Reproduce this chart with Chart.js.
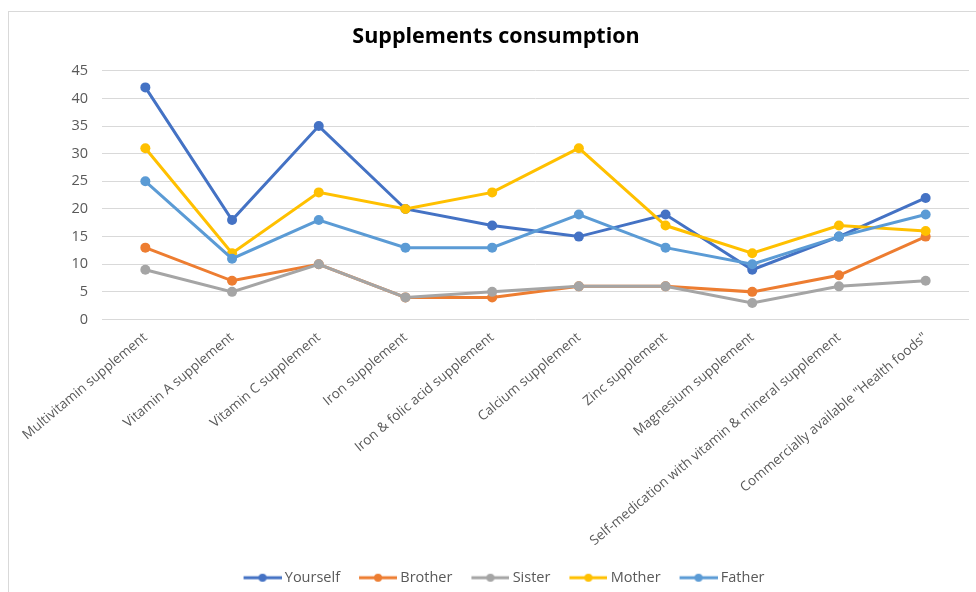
<!DOCTYPE html>
<html>
<head>
<meta charset="utf-8">
<title>Supplements consumption</title>
<script src="https://cdn.jsdelivr.net/npm/chart.js@4/dist/chart.umd.min.js"></script>
<style>
  html, body { margin: 0; padding: 0; background: #fff; overflow: hidden; }
  #wrap { position: relative; width: 976px; height: 592px; }
  #frame {
    position: absolute; left: 8px; top: 11px; width: 1200px; height: 800px;
    border: 1px solid #d9d9d9; box-sizing: border-box; pointer-events: none;
  }
  #chart { position: absolute; left: 0; top: 0; }
</style>
</head>
<body>
<div id="wrap">
  <div id="frame"></div>
  <canvas id="chart" width="976" height="592"></canvas>
</div>
<script>
// Categories on the horizontal axis
const categories = [
  'Multivitamin supplement',
  'Vitamin A supplement',
  'Vitamin C supplement',
  'Iron supplement',
  'Iron & folic acid supplement',
  'Calcium supplement',
  'Zinc supplement',
  'Magnesium supplement',
  'Self-medication with vitamin & mineral supplement',
  'Commercially available "Health foods"'
];

// Counts per family member
const yourself = [42, 18, 35, 20, 17, 15, 19, 9, 15, 22];
const brother  = [13, 7, 10, 4, 4, 6, 6, 5, 8, 15];
const sister   = [9, 5, 10, 4, 5, 6, 6, 3, 6, 7];
const mother   = [31, 12, 23, 20, 23, 31, 17, 12, 17, 16];
const father   = [25, 11, 18, 13, 13, 19, 13, 10, 15, 19];

const seriesNames = ['Yourself', 'Brother', 'Sister', 'Mother', 'Father'];
const seriesColors = ['#4472C4', '#ED7D31', '#A5A5A5', '#FFC000', '#5B9BD5'];
const seriesValues = [yourself, brother, sister, mother, father];

// Y axis ticks
const yMin = 0, yMax = 45, yStep = 5;

const FONT = "'Open Sans', 'Noto Sans', sans-serif";
const GREY_TEXT = '#595959';

// Legend marker: a short line with a dot in the middle, right-aligned in its image
function legendMarker(color) {
  const c = document.createElement('canvas');
  const w = 58, len = 38, lead = w - len;
  c.width = w; c.height = 10;
  const g = c.getContext('2d');
  g.strokeStyle = color; g.lineWidth = 3;
  g.beginPath(); g.moveTo(lead, 5); g.lineTo(w, 5); g.stroke();
  g.fillStyle = color;
  g.beginPath(); g.arc(lead + len / 2, 5, 4, 0, Math.PI * 2); g.fill();
  return c;
}

const datasets = seriesNames.map((name, i) => ({
  label: name,
  data: seriesValues[i],
  borderColor: seriesColors[i],
  backgroundColor: seriesColors[i],
  pointBackgroundColor: seriesColors[i],
  pointBorderColor: seriesColors[i],
  pointBorderWidth: 0,
  pointRadius: 5,
  pointHoverRadius: 5,
  borderWidth: 3,
  tension: 0,
  fill: false,
  order: seriesNames.length - i   // later series are painted on top
}));

new Chart(document.getElementById('chart'), {
  type: 'line',
  data: { labels: categories, datasets },
  options: {
    responsive: false,
    animation: false,
    devicePixelRatio: 1,
    layout: { padding: { left: 23, right: 7, top: 0, bottom: -3 } },
    plugins: {
      title: {
        display: true,
        text: 'Supplements consumption',
        color: '#000',
        font: { family: FONT, size: 21.5, weight: 'bold' },
        padding: { top: 24, bottom: 21 }
      },
      legend: {
        position: 'bottom',
        labels: {
          color: GREY_TEXT,
          font: { family: FONT, size: 14.5 },
          usePointStyle: true,
          pointStyleWidth: 50,
          padding: 3,
          sort: (a, b) => a.datasetIndex - b.datasetIndex,
          generateLabels: (chart) => chart.data.datasets.map((ds, i) => ({
            text: ds.label,
            fillStyle: ds.borderColor,
            strokeStyle: ds.borderColor,
            lineWidth: 0,
            pointStyle: legendMarker(ds.borderColor),
            hidden: !chart.isDatasetVisible(i),
            datasetIndex: i,
            fontColor: GREY_TEXT
          }))
        }
      },
      tooltip: { enabled: false }
    },
    scales: {
      x: {
        offset: true,
        grid: { display: false, drawTicks: false },
        border: { display: false },
        ticks: {
          autoSkip: false,
          maxRotation: 40,
          minRotation: 40,
          padding: 10,
          color: GREY_TEXT,
          font: { family: FONT, size: 13.5 }
        },
        afterFit: (scale) => { scale.height = 248; }
      },
      y: {
        min: yMin,
        max: yMax,
        grid: { color: '#d9d9d9', lineWidth: 1, drawTicks: false },
        border: { display: false },
        ticks: {
          stepSize: yStep,
          padding: 14,
          color: GREY_TEXT,
          font: { family: FONT, size: 14.5 }
        },
        afterFit: (scale) => { scale.width = 79; }
      }
    }
  }
});
</script>
</body>
</html>
